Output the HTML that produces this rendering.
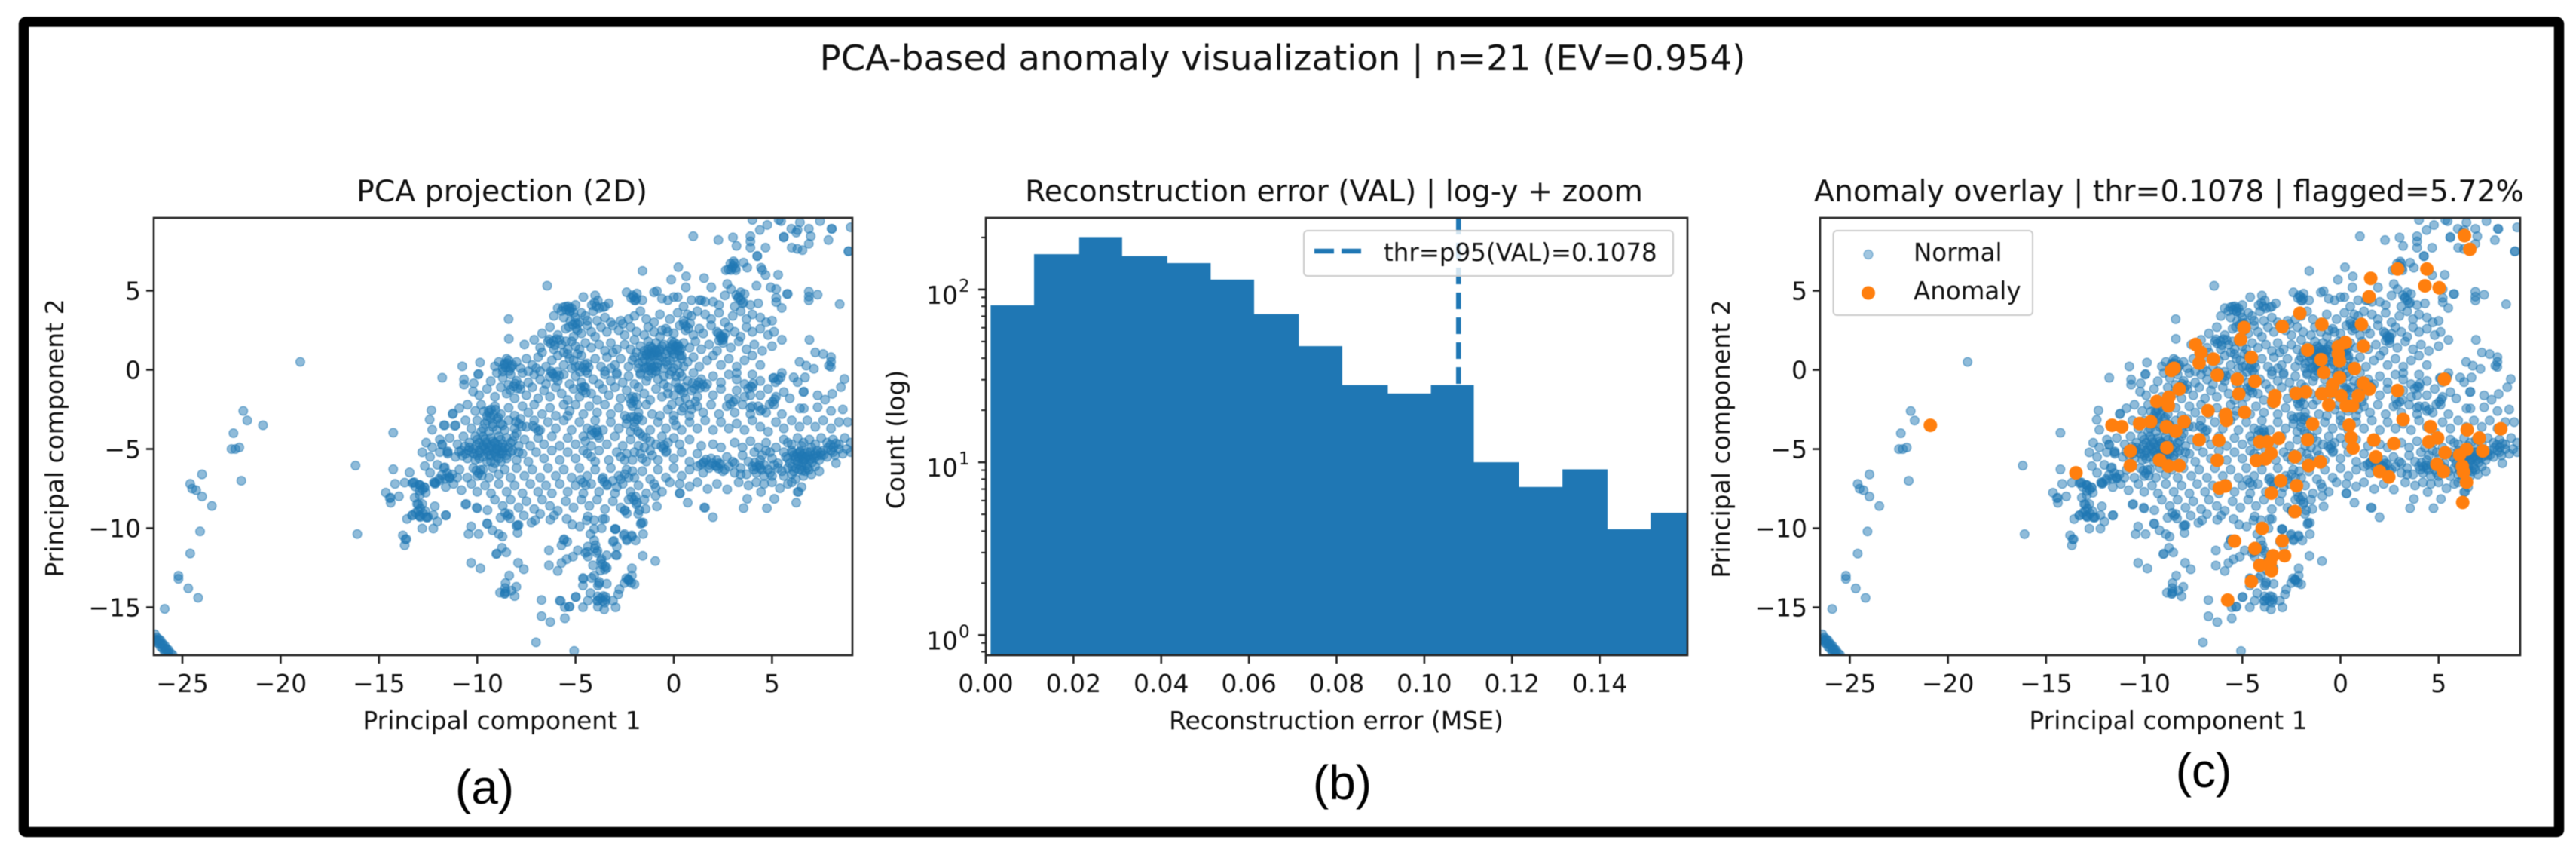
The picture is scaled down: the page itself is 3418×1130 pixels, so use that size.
<!DOCTYPE html>
<html lang="en">
<head>
<meta charset="utf-8">
<title>PCA-based anomaly visualization</title>
<style>
html,body{margin:0;padding:0;background:#fff;width:3418px;height:1130px;overflow:hidden}
svg{display:block;filter:blur(.6px)}
text{font-family:"DejaVu Sans","Liberation Sans",sans-serif;fill:#111}
.big{font-family:"Liberation Sans",sans-serif;font-size:64px;fill:#000}
</style>
</head>
<body>
<svg id="figure" xmlns="http://www.w3.org/2000/svg" width="3418" height="1130" viewBox="0 0 3418 1130">
<rect width="3418" height="1130" fill="#fff"/>
<rect x="31.5" y="29" width="3364" height="1074.5" rx="3" fill="none" stroke="#000" stroke-width="13.5"/>
<defs>
<clipPath id="clip-a"><rect x="204" y="289" width="927" height="580"/></clipPath>
<clipPath id="clip-b"><rect x="1308" y="289" width="931" height="580"/></clipPath>
<clipPath id="clip-c"><rect x="2415" y="289" width="929" height="580"/></clipPath>
</defs>
<text x="1702" y="93" font-size="46.6" text-anchor="middle">PCA-based anomaly visualization | n=21 (EV=0.954)</text>

<g>
<text x="666" y="267" font-size="39.4" text-anchor="middle">PCA projection (2D)</text>
<g id="marks-a" clip-path="url(#clip-a)"></g>
<rect x="204" y="289" width="927" height="580" fill="none" stroke="#222" stroke-width="2.6"/>
<g id="ticks-a"></g>
<text x="666" y="967" font-size="33" text-anchor="middle">Principal component 1</text>
<text x="0" y="0" font-size="33" text-anchor="middle" transform="translate(84 581) rotate(-90)">Principal component 2</text>
<text class="big" x="643" y="1066" text-anchor="middle">(a)</text>
</g>

<g>
<text x="1770" y="267" font-size="39.4" text-anchor="middle">Reconstruction error (VAL) | log-y + zoom</text>
<g id="marks-b" clip-path="url(#clip-b)"></g>
<g id="legend-b">
<rect x="1730" y="306" width="490" height="60" rx="5" fill="#fff" fill-opacity=".8" stroke="#ccc" stroke-width="2"/>
<line x1="1744" x2="1806" y1="333" y2="333" stroke="#1f77b4" stroke-width="6.5" stroke-dasharray="26 10"/>
<text x="1836" y="346" font-size="32.5">thr=p95(VAL)=0.1078</text>
</g>
<rect x="1308" y="289" width="931" height="580" fill="none" stroke="#222" stroke-width="2.6"/>
<g id="ticks-b"></g>
<text x="1773" y="967" font-size="33" text-anchor="middle">Reconstruction error (MSE)</text>
<text x="0" y="0" font-size="33" text-anchor="middle" transform="translate(1200 583) rotate(-90)">Count (log)</text>
<text class="big" x="1781" y="1060" text-anchor="middle">(b)</text>
</g>

<g>
<text x="2878" y="267" font-size="39.4" text-anchor="middle">Anomaly overlay | thr=0.1078 | flagged=5.72%</text>
<g id="marks-c" clip-path="url(#clip-c)"></g>
<g>
<rect x="2432.5" y="306" width="264.5" height="112" rx="5" fill="#fff" fill-opacity=".8" stroke="#ccc" stroke-width="2"/>
<circle cx="2479" cy="337.5" r="6" fill="#1f77b4" fill-opacity=".42" stroke="#1f77b4" stroke-opacity=".42" stroke-width="1.5"/>
<text x="2539" y="346" font-size="32.5">Normal</text>
<circle cx="2479" cy="388.5" r="9" fill="#ff7f0e"/>
<text x="2539" y="397" font-size="32.5">Anomaly</text>
</g>
<rect x="2415" y="289" width="929" height="580" fill="none" stroke="#222" stroke-width="2.6"/>
<g id="ticks-c"></g>
<text x="2877" y="967" font-size="33" text-anchor="middle">Principal component 1</text>
<text x="0" y="0" font-size="33" text-anchor="middle" transform="translate(2295 582) rotate(-90)">Principal component 2</text>
<text class="big" x="2924" y="1044" text-anchor="middle">(c)</text>
</g>
</svg>
<script>
const pcaXTicks=[-25,-20,-15,-10,-5,0,5];
const pcaYTicks=[5,0,-5,-10,-15];
const errorTicks=[0,0.02,0.04,0.06,0.08,0.10,0.12,0.14];
const countDecades=[0,1,2];
const countMinorTicks=[0.8,0.9,2,3,4,5,6,7,8,9,20,30,40,50,60,70,80,90,200];
const histEdges=[0.0011,0.011,0.0213,0.031,0.0413,0.0512,0.0611,0.0713,0.0812,0.0916,0.1015,0.1112,0.1215,0.1315,0.1417,0.1516,0.1636];
const histCounts=[81,160,201,156,142,114,72,47,28,25,28,10,7.2,9.1,4.1,5.1];
const thresholdValue=0.1078;
const anomalyPoints=[[6.32,8.48],[6.59,7.62],[2.91,6.37],[4.4,6.37],[1.54,5.78],[4.3,5.31],[5.03,5.18],[1.46,4.62],[-2.07,3.58],[-4.91,2.67],[-2.97,2.74],[-.95,2.87],[1.07,2.87],[-5.09,1.92],[-7.38,1.61],[.25,1.74],[-.11,1.47],[1.17,1.5],[-1.67,1.26],[-7.11,1.1],[-6.48,.68],[-4.54,.79],[-.99,.65],[-.11,1.01],[-.05,.56],[-7.2,.43],[-8.48,.1],[-8.62,-.04],[.72,.08],[-.85,-.17],[-6.28,-.32],[-5.26,-.59],[-4.36,-.72],[-.05,-.48],[5.29,-.59],[1.17,-.84],[1.46,-1.21],[-8.22,-1.21],[-.4,-.95],[2.91,-1.3],[-5.18,-1.52],[-3.34,-1.63],[-3.4,-1.99],[-2.26,-1.48],[-1.77,-1.39],[-.95,-1.5],[-.5,-1.35],[.03,-1.63],[.91,-1.63],[-9.36,-1.99],[-8.75,-1.72],[-8.77,-2.27],[-.6,-2.21],[.29,-2.27],[.62,-2.27],[-6.75,-2.57],[-4.89,-2.68],[-5.85,-2.81],[-5.81,-3.18],[-10.24,-3.39],[-9.67,-3.27],[-11.64,-3.5],[-11.15,-3.59],[-7.97,-3.27],[-8.87,-3.59],[-8.4,-3.87],[-1.42,-3.41],[.44,-3.49],[3.19,-3.14],[4.58,-3.59],[6.46,-3.78],[8.17,-3.72],[-7.2,-4.41],[-6.2,-4.45],[-4.11,-4.54],[-3.73,-4.54],[-3.15,-4.32],[-1.67,-4.41],[.54,-4.27],[1.7,-4.43],[2.72,-4.65],[4.95,-4.3],[4.5,-4.54],[7.07,-4.3],[-10.71,-5.12],[-8.85,-4.91],[.64,-4.94],[5.33,-5.23],[6.42,-5.02],[7.25,-5.12],[6.07,-5.36],[-3.54,-5.27],[-2.32,-5.49],[1.8,-5.49],[-9.22,-5.69],[-10.71,-6.05],[-8.77,-6.07],[-8.22,-6.05],[-6.28,-5.71],[-4.28,-5.73],[-3.83,-5.63],[-1.03,-5.82],[-1.62,-6.05],[4.91,-5.96],[5.25,-6.42],[1.99,-6.42],[2.46,-6.76],[6.21,-6.09],[6.27,-6.45],[6.42,-7.09],[-13.48,-6.5],[-3.05,-7],[-2.24,-7.31],[-6.17,-7.46],[-5.87,-7.33],[-3.52,-7.78],[-2.32,-8.95],[6.23,-8.37],[-3.99,-10.01],[-5.4,-10.81],[-2.97,-10.79],[-4.36,-11.28],[-2.85,-11.74],[-3.44,-11.74],[-4.11,-12.34],[-3.58,-12.19],[-3.52,-12.68],[-4.54,-13.36],[-5.75,-14.54],[-20.9,-3.5]];
const normalPoints=[
[-19,.5],[-21.9,-2.6],[-21.7,-3.2],[-20.9,-3.5],[-22.4,-4],[-22.5,-5],[-22.3,-5],[-22.1,-4.9],[-24,-6.6],[-24.6,-7.2],[-24.5,-7.5],[-24.3,-7.6],[-24,-8],[-23.5,-8.6],[-22,-7],[-24.1,-10.2],[-24.6,-11.6],[-25.2,-13],[-25.2,-13.2],[-24.7,-13.8],[-24.2,-14.4],[-25.9,-15.1],
[-26.4,-16.7],[-26.3,-16.9],[-26.4,-17],[-26.2,-17],[-26.1,-17.1],[-26.3,-17.2],[-26,-17.3],[-25.9,-17.4],[-26.1,-17.5],[-25.8,-17.6],[-25.7,-17.7],[-25.9,-17.8],[-25.6,-17.9],[-25.5,-18],[-25.7,-18.1],[-26.2,-17.3],[-26,-17.6],[-25.8,-17.9],[-26.3,-17.1],[-26.2,-17.1],[-26,-17.4],[-25.8,-17.7],[-26.1,-17.3],[-25.9,-17.6],[-25.7,-17.9],
[.99,8.44],[2.27,8.2],[3.01,8.36],[3.19,7.83],[3.9,8.44],[3.9,8.12],[3.9,7.72],[4.67,7.72],[4.25,7.17],[4.25,7.2],[4.38,8.83],[4.76,9.15],[4,9.47],[5.46,9.39],[5.34,9.47],[5.98,8.91],[6.23,8.67],[6.3,8.83],[6.42,9.31],[6.87,8.91],[6.97,8.44],[6.87,7.96],[6.55,7.56],[6.29,7.64],[6,7.72],[5.59,8.36],[5.6,8.4],[7.44,9.39],[8.02,8.91],[8.05,8.9],[7.87,8.2],[9,9],[8.88,7.48],[8.9,7.5],
[-1.59,6.25],[-6.44,5.31],[.23,6.48],[.63,5.9],[-.13,5.69],[1.54,5.79],[1.91,5.21],[-.86,4.98],[.61,5.21],[2.72,5.42],[2.91,5.1],[4.21,5.31],[4.93,5.21],[5.21,5.1],[5.21,4.55],[5.21,4.28],[5.49,3.91],[5.76,4.79],[5.8,4.8],[6.87,4.94],[6.87,4.63],[6.87,4.39],[7.32,4.75],[8.44,4.15],[5.31,6],[4.67,5.98],[4.44,6.45],[4.5,6.29],[2.78,6.34],[2.97,6.45],[3.16,6.29],[2.65,6.29],[3.04,6.85],[3.55,6.77],[3.74,6.45],[2.9,6.3],
[-5.9,3.9],[-5.5,4],[-5.3,3.9],[-5.1,3.6],[-5,4.1],[-4.6,4.6],[-4,4.7],[-4.5,3.4],[-4.1,3.7],[-3.8,3.9],[-3.5,4],[-3.3,4.2],[-2.4,4.9],[-2.1,4.7],[-2,4.4],[-1.9,4.5],[-1.6,4.4],[-1,4.9],[-.6,4.5],[-.3,4.4],[0,4.6],[.2,4.6],[.5,4],[.9,4.4],[1.3,4.4],[1.4,4.4],[1.6,4.3],[2,4.3],[2.3,4.1],[2.6,4.7],[3.1,4],[3.3,4.6],[3.4,4.9],[3.6,4.8],[3.5,4.2],[3.55,4.25],[3.9,4.1],[4.3,4.2],[-5.2,3.9],[-3.6,3.95],
[-8.4,3.2],[-6.1,3.4],[-5.6,3.3],[-5.3,3.7],[-5,3.3],[-4.8,3],[-4.7,3.6],[-4.4,3.1],[-3.9,3.1],[-3.5,3.3],[-3.2,3],[-2.7,3.1],[-2.3,3.2],[-2,3.4],[-1.7,3.7],[-1.4,3.2],[-1,3],[-.7,3.5],[-.2,3.2],[.2,3.6],[.5,3.1],[.9,3.4],[1.2,3.7],[1.6,3.5],[1.9,3.2],[2.3,3.6],[2.6,3],[3,3.4],[3.4,3.7],[3.7,3.2],[4,3.5],[4.4,3.3],[4.7,3],[5,3.1],[-4.9,2.9],[-2.6,2.9],[.7,3.5],
[-6.7,2.3],[-6.3,2.7],[-5.9,2.2],[-5.5,2.6],[-5.1,2.1],[-4.9,2.5],[-4.7,2.3],[-4.4,2.8],[-4.2,2.4],[-4,2.1],[-3.7,2.7],[-3.4,2.4],[-3.1,2.8],[-2.8,2.5],[-2.5,2.2],[-2.2,2.7],[-1.9,2.4],[-1.5,2.2],[-1.3,2.7],[-1,2.4],[-.7,2.1],[-.4,2.6],[0,2.3],[.3,2.8],[.6,2.5],[1,2.2],[1.3,2.6],[1.5,2.3],[1.9,2.8],[2.2,2.4],[2.5,2.1],[2.8,2.7],[3.1,2.4],[3.4,2.1],[3.7,2.7],[4,2.4],[4.4,2.6],[4.8,2.2],[5.1,2.4],[2.4,2],[2.5,1.9],[2.3,1.85],[-5.8,1.9],[-5.5,1.8],[-.6,2.5],[-.3,2.4],
[-8.39,1.96],[-7.6,1.6],[-7.1,1.9],[-6.8,1.4],[-6.4,1.8],[-6.1,1.3],[-5.7,1.6],[-5.4,1.3],[-5.2,1.8],[-5,1.5],[-4.8,1.3],[-4.5,1.7],[-4.2,1.4],[-3.8,1.6],[-3.5,1.2],[-3.2,1.7],[-2.9,1.3],[-2.5,1.6],[-2.2,1.3],[-2,1.9],[-1.7,1.5],[-1.5,1.2],[-1.3,1.8],[-1.1,1.4],[-.9,1.7],[-.7,1.3],[-.5,1.6],[-.3,1.2],[-.1,1.8],[.1,1.5],[.3,1.2],[.5,1.7],[.8,1.4],[1.1,1.8],[1.4,1.3],[1.8,1.6],[2.2,1.2],[2.5,1.7],[2.9,1.4],[3.3,1.8],[3.7,1.3],[4.1,1.6],[4.5,1.2],[5,1.5],[5.5,1.9],[6.9,1.9],[7.2,1.1],[7.6,1],[8,.8],[8,.5],[-6.7,1.1],[-5.6,1.1],[-3.1,1.1],
[-10.76,.22],[-9.86,.46],[-9.1,.22],[-8.9,.5],[-8.6,.4],[-8.4,.6],[-8.2,.3],[-8,.5],[-7.8,.1],[-7.5,.7],[-7.2,.3],[-6.9,.8],[-6.5,.2],[-6.2,.6],[-5.9,.9],[-5.6,.3],[-5.3,.7],[-5,.2],[-4.7,.9],[-4.4,.4],[-4,.7],[-3.7,.2],[-3.4,.8],[-3,.3],[-2.7,.7],[-2.3,.2],[-2,.8],[-1.8,.4],[-1.5,.7],[-1.3,.2],[-1.1,.9],[-.8,.4],[-.6,.8],[-.3,.3],[0,.8],[.2,.3],[.4,.7],[.7,.5],[1,.8],[1.3,.2],[1.7,.6],[2,.9],[2.4,.3],[2.8,.7],[3.2,.2],[3.6,.6],[4,.9],[4.4,.3],[6.74,.26],[7.13,.06],[7.89,.26],[7.99,.18],[6.4,.5],[-8.7,.1],[-8.3,.1],[-8.5,.7],
[-11.78,-.5],[-9.93,-.26],[-9.95,-.3],[-10.67,-.61],[-10.67,-.93],[-10.18,-.85],[-10.21,-1.37],[-9.31,-.72],[-9,-.2],[-8.7,-.5],[-8.3,-.3],[-8,-.7],[-7.7,-.2],[-7.4,-.8],[-7.1,-.3],[-6.8,-.6],[-6.5,-.9],[-6.2,-.2],[-5.9,-.7],[-5.6,-.3],[-5.3,-.9],[-5,-.4],[-4.7,-.8],[-4.4,-.2],[-4.1,-.6],[-3.8,-.9],[-3.5,-.3],[-3.2,-.7],[-2.9,-.2],[-2.6,-.8],[-2.3,-.4],[-2,-.9],[-1.7,-.3],[-1.4,-.7],[-1.1,-.2],[-.8,-.6],[-.5,-.9],[-.2,-.3],[.1,-.8],[.4,-.4],[.7,-.7],[1,-.2],[1.4,-.6],[1.7,-.9],[2,-.4],[2.4,-.8],[2.8,-.3],[3.2,-.6],[3.6,-.9],[4,-.3],[4.4,-.7],[5.06,-.53],[5.1,-.5],[6.1,-.48],[6.68,-.48],[6.3,-.77],[8.68,-.58],[8.5,-1.09],[5.5,-.2],[3.2,-.2],
[-9.9,-1.6],[-9.5,-1.2],[-9.1,-1.7],[-8.8,-1.1],[-8.5,-1.5],[-8.1,-1.8],[-7.8,-1.2],[-7.5,-1.6],[-7.2,-1.1],[-6.9,-1.8],[-6.6,-1.3],[-6.3,-1.7],[-6,-1.1],[-5.7,-1.5],[-5.4,-1.9],[-5.1,-1.2],[-4.8,-1.7],[-4.5,-1.1],[-4.2,-1.5],[-3.9,-1.9],[-3.6,-1.2],[-3.3,-1.6],[-3,-1.1],[-2.7,-1.8],[-2.4,-1.3],[-2.1,-1.7],[-1.8,-1.1],[-1.5,-1.5],[-1.2,-1.9],[-.9,-1.2],[-.6,-1.7],[-.3,-1.1],[0,-1.6],[.3,-1.2],[.6,-1.8],[.9,-1.3],[1.2,-1.7],[1.6,-1.1],[2,-1.6],[2.4,-1.2],[2.8,-1.8],[3.2,-1.3],[3.6,-1.7],[4,-1.1],[4.4,-1.6],[4.8,-1.2],[5.2,-1.7],[6.62,-1.37],[6.6,-1.4],[7.32,-1.61],[7.7,-1.88],[8.06,-1.52],[5.6,-1.4],[5.9,-1.8],[3.9,-1.6],
[-12.33,-2.56],[-10.91,-2.43],[-11.23,-2.75],[-11.25,-2.8],[-10.5,-2.2],[-10.1,-2.6],[-9.8,-2.2],[-9.4,-2.7],[-9.1,-2.3],[-8.8,-2.8],[-8.4,-2.4],[-8.1,-2.9],[-7.7,-2.3],[-7.4,-2.7],[-7.1,-2.2],[-6.7,-2.8],[-6.3,-2.4],[-6,-2.9],[-5.6,-2.2],[-5.3,-2.6],[-5,-2.2],[-4.6,-2.8],[-4.3,-2.3],[-3.9,-2.7],[-3.5,-2.2],[-3.2,-2.8],[-2.8,-2.4],[-2.5,-2.9],[-2.1,-2.3],[-1.8,-2.7],[-1.4,-2.2],[-1.1,-2.8],[-.7,-2.9],[-.3,-2.5],[0,-2.9],[.4,-2.6],[.8,-2.9],[1.2,-2.3],[1.5,-2.7],[1.9,-2.2],[2.3,-2.8],[2.7,-2.3],[3.1,-2.7],[3.5,-2.2],[3.9,-2.8],[4.3,-2.3],[4.7,-2.7],[5.1,-2.2],[5.5,-2.8],[6.42,-2.44],[6.62,-2.44],[7.32,-2.36],[8,-2.6],[8.6,-2.5],[4.4,-2.6],[4.5,-2.5],[3.9,-2.4],[4,-2.3],[-5.4,-2.9],[-9.3,-2.5],
[-12.42,-3.15],[-12.29,-3.78],[-11.65,-3.5],[-11.7,-3.5],[-11.14,-3.54],[-11.1,-3.5],[-10.6,-3.2],[-10.3,-3.7],[-10,-3.2],[-9.7,-3.7],[-9.5,-3.2],[-9.2,-3.6],[-9,-3.1],[-8.7,-3.5],[-8.4,-3.2],[-8.1,-3.7],[-7.8,-3.1],[-7.5,-3.6],[-7.1,-3.2],[-6.8,-3.8],[-6.4,-3.3],[-6,-3.7],[-5.6,-3.2],[-5.2,-3.8],[-4.8,-3.3],[-4.4,-3.7],[-4,-3.2],[-3.6,-3.8],[-3.2,-3.3],[-2.8,-3.7],[-2.4,-3.1],[-2,-3.6],[-1.6,-3.2],[-1.2,-3.8],[-.8,-3.3],[-.4,-3.7],[0,-3.2],[.4,-3.8],[.8,-3.3],[1.2,-3.7],[1.6,-3.2],[2,-3.8],[2.4,-3.3],[2.8,-3.7],[3.2,-3.4],[3.6,-3.8],[4,-3.2],[4.4,-3.6],[4.8,-3.9],[5.2,-3.3],[5.6,-3.7],[6,-3.2],[6.4,-3.6],[6.8,-3.2],[7.2,-3.6],[7.6,-3.2],[8,-3.7],[8.4,-3.3],[8.85,-3.3],[-3.9,-3.9],[-2.2,-3.9],[.1,-3.5],
[-14.27,-3.97],[-12.6,-4.6],[-12.29,-4.89],[-11.9,-4.4],[-11.78,-4.74],[-11.8,-4.7],[-11.4,-4.3],[-11,-4.7],[-10.7,-4.2],[-10.4,-4.6],[-10.1,-4.2],[-9.9,-4.6],[-9.7,-4.2],[-9.5,-4.7],[-9.3,-4.3],[-9.1,-4.6],[-8.9,-4.2],[-8.7,-4.7],[-8.5,-4.3],[-8.3,-4.6],[-8.1,-4.2],[-7.9,-4.8],[-7.6,-4.4],[-7.3,-4.8],[-6.9,-4.3],[-6.6,-4.7],[-6.2,-4.2],[-5.8,-4.8],[-5.4,-4.3],[-5,-4.7],[-4.6,-4.2],[-4.2,-4.8],[-3.8,-4.3],[-3.4,-4.7],[-3,-4.2],[-2.6,-4.8],[-2.2,-4.4],[-1.8,-4.8],[-1.4,-4.3],[-.9,-4.7],[-.6,-4.2],[-.3,-4.6],[0,-4.3],[.3,-4.7],[.8,-4.4],[1.4,-4.8],[2,-4.7],[2.4,-4.9],[3.1,-4.6],[3.5,-4.9],[3.9,-4.5],[4.3,-4.9],[4.7,-4.6],[5.2,-4.9],[5.6,-4.4],[6,-4.7],[6.3,-4.3],[6.6,-4.6],[6.9,-4.4],[7.2,-4.7],[7.5,-4.3],[7.8,-4.6],[8.1,-4.4],[8.4,-4.7],[8.7,-4.3],[9,-4.6],[-9.6,-4.4],[-9.2,-4.5],[-8.8,-4.4],[-9.4,-4.9],[-8.6,-4.9],[5.8,-4.6],[6.5,-4.8],[7,-4.9],
[-12.8,-5.21],[-12.4,-5.5],[-11.9,-5.2],[-11.52,-5.21],[-11.5,-5.3],[-11.5,-5.15],[-11.1,-5.5],[-10.8,-5.1],[-10.5,-5.6],[-10.3,-5.2],[-10.1,-5.7],[-9.9,-5.1],[-9.7,-5.5],[-9.5,-5.2],[-9.3,-5.8],[-9.1,-5.3],[-8.9,-5.6],[-8.7,-5.1],[-8.5,-5.6],[-8.3,-5.2],[-8,-5.7],[-7.7,-5.3],[-7.4,-5.8],[-7,-5.2],[-6.6,-5.6],[-6.2,-5.1],[-5.8,-5.7],[-5.4,-5.2],[-5,-5.6],[-4.6,-5.1],[-4.2,-5.5],[-3.8,-5.1],[-3.3,-5.7],[-2.9,-5.2],[-2.5,-5.7],[-2,-5.2],[-1.6,-5.6],[-1.2,-5.1],[-.8,-5.7],[-.4,-5.2],[0,-5.6],[.4,-5.2],[.8,-5.8],[1.2,-5.3],[1.5,-5.9],[1.9,-5.6],[2.3,-5.9],[2.7,-5.5],[3.1,-5.9],[3.5,-5.4],[3.8,-5.8],[4.1,-5.2],[4.4,-5.7],[4.7,-5.1],[5,-5.6],[5.3,-5.9],[5.6,-5.2],[5.8,-5.6],[6,-5.1],[6.2,-5.5],[6.4,-5.2],[6.6,-5.7],[6.8,-5.2],[7,-5.6],[7.2,-5.3],[7.4,-5.7],[7.6,-5.1],[7.8,-5.5],[8,-5.1],[8.2,-5.4],[8.4,-5],[8.6,-5.3],[8.8,-5],[9,-5.2],[6.1,-5.4],[6.3,-5.8],[6.5,-5.4],[6.7,-5.5],[6.9,-5.7],[7.1,-5.4],[5.9,-5.9],[5.7,-5.5],[-10,-5.4],[-9.6,-5],[-9,-5],[-9.3,-5.4],[-8.8,-5.3],[7.3,-5.1],[7.5,-5.4],[8.1,-5.2],
[-16.19,-6.05],[-14.27,-6.28],[-13.44,-6.48],[-12.67,-6.08],[-12.4,-6.5],[-12.03,-6],[-11.65,-6.16],[-11.7,-6.2],[-11.4,-6.8],[-11.4,-6.85],[-11.45,-6.75],[-11.01,-6.8],[-10.9,-6.3],[-10.5,-6.8],[-10.2,-6.2],[-10,-6.7],[-9.7,-6.3],[-9.4,-6.8],[-9.2,-6.2],[-8.9,-6.6],[-8.6,-6.3],[-8.3,-6.8],[-8,-6.2],[-7.6,-6.7],[-7.2,-6.3],[-6.8,-6.8],[-6.4,-6.2],[-6,-6.7],[-5.6,-6.3],[-5.2,-6.8],[-4.8,-6.2],[-4.4,-6.7],[-4,-6.3],[-3.6,-6.8],[-3.2,-6.2],[-2.8,-6.7],[-2.4,-6.3],[-2,-6.8],[-1.6,-6.4],[-1.2,-6.9],[-.8,-6.3],[-.4,-6.8],[0,-6.2],[.4,-6.7],[.8,-6.3],[1.2,-6.1],[1.5,-6.5],[1.8,-6.2],[2.2,-6.1],[2.5,-6.4],[2.8,-6.1],[3.1,-6.5],[3.4,-6.2],[3.7,-6.6],[4,-6.1],[4.2,-6.5],[4.4,-6.2],[4.6,-6.7],[4.8,-6.3],[5,-6.7],[5.3,-6.2],[5.6,-6.7],[5.8,-6.2],[6,-6.6],[6.2,-6.9],[6.4,-6.3],[6.6,-6.7],[6.8,-6.2],[7,-6.6],[7.2,-6.1],[7.4,-6.4],[8.25,-5.9],[6.5,-6.1],[6.7,-6.4],[6.1,-6.4],[-2.5,-6.6],[-2.3,-6.8],[-2.1,-6.4],
[-14.18,-7.2],[-13.69,-7.12],[-13.25,-7.12],[-13.3,-7.15],[-13.2,-7.1],[-12.93,-7.28],[-12.9,-7.3],[-12.95,-7.25],[-12.67,-7.43],[-12.7,-7.4],[-12.16,-7.12],[-12.2,-7.1],[-12.1,-7.15],[-12.15,-7.2],[-11.9,-6.96],[-11.6,-7.4],[-11.2,-7.2],[-10.8,-7.6],[-10.3,-7.2],[-10,-7.7],[-9.6,-7.3],[-9.3,-7.8],[-8.9,-7.2],[-8.5,-7.7],[-8.1,-7.3],[-7.7,-7.8],[-7.3,-7.2],[-6.9,-7.7],[-6.5,-7.3],[-6.2,-7.8],[-5.8,-7.2],[-5.4,-7.7],[-5,-7.3],[-4.6,-7.8],[-4.2,-7.2],[-3.8,-7.7],[-3.4,-7.3],[-3,-7.8],[-2.6,-7.2],[-2.2,-7.7],[-1.8,-7.3],[-1.4,-7.8],[-1,-7.2],[-.92,-7.44],[-.6,-7.7],[-.2,-7.1],[.3,-7.2],[.8,-7.36],[1.2,-7.1],[1.72,-7.52],[2.2,-7.2],[2.72,-7.55],[3.3,-7.1],[3.8,-7.3],[4.44,-7.71],[4.2,-7.1],[4.6,-7.2],[5,-7.1],[5.4,-7.48],[5.8,-7.2],[6.3,-7.71],[6.35,-7.7],[6,-7.1],[6.5,-7.4],[-14.65,-7.75],[-14.4,-8.07],[-14.45,-8.1],[-14.4,-8.4],[-13.98,-7.99],[-12.93,-7.91],[-13.18,-8.07],[-12.8,-8.47],[-13.06,-8.47],[-13,-8.5],[-12.16,-8.62],
[-10.56,-8.47],[-10.6,-8.5],[-10.03,-8.7],[-10,-8.75],[-9.48,-8.86],[-9.1,-8.2],[-8.7,-8.6],[-8.3,-8.2],[-7.9,-8.7],[-7.5,-8.3],[-7.1,-8.8],[-6.7,-8.2],[-6.3,-8.6],[-5.9,-8.9],[-5.5,-8.3],[-5.1,-8.7],[-4.7,-8.2],[-4.3,-8.6],[-3.9,-8.2],[-3.5,-8.8],[-3.1,-8.3],[-2.7,-8.7],[-2.3,-8.2],[-1.9,-8.5],[-1.5,-8.2],[-.92,-7.96],[-.86,-8.63],[.29,-7.8],[.32,-7.8],[.71,-8.39],[1.59,-8.71],[1.55,-8.7],[1.99,-9.31],[3.74,-8.15],[3.55,-8.74],[4.74,-8.74],[5.12,-8.15],[6.23,-8.39],[-2.48,-8.87],[-2.5,-8.9],[-1.43,-8.79],[-1.75,-8.87],
[-13.31,-9.18],[-13.3,-9.2],[-12.93,-9.26],[-12.9,-9.3],[-12.95,-9.2],[-12.55,-9.34],[-12.5,-9.3],[-12.6,-9.3],[-12.23,-9.18],[-11.59,-9.18],[-11.6,-9.2],[-13.57,-9.42],[-12.8,-10.02],[-12.23,-10.02],[-12.03,-9.58],[-9.48,-9.73],[-9.5,-9.7],[-9.22,-10.13],[-8.9,-10.37],[-8.71,-10.53],[-10.31,-9.89],[-9.93,-10.37],[-10.44,-10.37],[-7.95,-9.81],[-7.9,-9.8],[-8,-9.85],[-7.95,-10.29],[-16.1,-10.37],[-13.78,-10.45],[-13.6,-10.69],[-13.65,-10.7],[-13.69,-11.08],
[-8.81,-9.34],[-8.39,-9.1],[-7.63,-9.21],[-7.24,-9.65],[-7.05,-9.5],[-6.28,-9.46],[-6.09,-9.2],[-6.8,-9.1],[-5.45,-9.42],[-5.17,-9.77],[-4.78,-9.89],[-4.37,-9.26],[-4.43,-9.5],[-4.05,-9.5],[-3.5,-9.42],[-3.67,-10],[-4.05,-10.05],[-2.96,-10.05],[-3,-10.05],[-2.51,-10.37],[-2.13,-10.53],[-1.56,-10.37],[-1.94,-10.77],[-2.39,-10.77],[-3.09,-10.85],[-3.05,-10.8],[-1.68,-9.73],[-1.56,-9.65],[-2.39,-9.07],[-1.81,-9.1],[-3.61,-9.42],[-1.65,-9.66],[-2.97,-10.06],[-2.55,-10.45],[-2.14,-10.45],[-2.39,-10.69],
[-4.24,-10.37],[-4.05,-10.77],[-4.37,-11.16],[-3.98,-11.08],[-4.5,-11.56],[-4.4,-11.5],[-4.37,-11.8],[-3.92,-11.56],[-4.88,-11.4],[-5.13,-11.8],[-5.45,-11.96],[-5.71,-12.2],[-5.9,-12.7],[-6.35,-12.35],[-6.35,-11.4],[-5.71,-11.08],[-5.58,-10.69],[-5.42,-10.85],[-5.6,-10.75],[-2.9,-11.16],[-2.9,-11.72],[-2.95,-11.7],[-3.41,-11.72],[-3.67,-11.96],[-4.11,-12.35],[-3.41,-12.51],[-3.73,-12.67],[-3.5,-12.6],[-4.05,-12.99],[-4.62,-13.15],[-4.6,-13.2],[-4.62,-13.62],[-4.18,-13.15],[-3.79,-13.39],[-3.41,-13.51],[-3.86,-13.62],[-3.8,-13.5],[-2.13,-12.54],[-2.13,-12.99],[-2.32,-13.23],[-2.3,-13.25],[-2.51,-13.46],[-2,-13.54],[-2.77,-13.86],[-2.83,-14.18],[-1.58,-11.75],[-.94,-12.08],[-3.09,-14.58],[-2.96,-15],[-3.47,-14.34],[-3.54,-15.13],[-3.86,-14.58],[-3.9,-14.6],[-3.86,-14.97],[-3.5,-14.7],[-3.6,-14.6],[-4.37,-14.58],[-4.24,-14.1],[-4.62,-15],[-4.98,-14.34],[-5,-14.35],[-5.33,-14.97],[-5.3,-14.95],[-5.54,-15],[-5.8,-14.58],[-5.75,-14.6],[-5.54,-15.69],[-6.73,-14.54],[-6.73,-15.56],[-6.28,-15.92],[-7.01,-17.21],[-5.07,-17.75],
[-9.03,-11.64],[-9,-11.6],[-8.74,-11.24],[-8.52,-11.53],[-10.31,-12.19],[-9.84,-12.54],[-7.92,-12.19],[-7.63,-12.59],[-8.37,-12.99],[-8.56,-13.46],[-8.01,-13.7],[-8.84,-14.07],[-8.58,-14.1],[-8.6,-14.15],[-8.58,-13.78],[-8.1,-14.29],[-8.26,-13.94],[-8.55,-14],
[-1.2,1.5],[-1,1.1],[-.8,.9],[-.6,1.5],[-.4,1],[-.2,1.4],[0,1],[.2,1.6],[.4,.9],[-1.6,.9],[-1.4,1],[-1.9,1.1],[-2.1,.6],[-1.8,.1],[-1.5,.1],[-1.2,.5],[-1,.2],[-.7,.6],[-.5,.1],[-.2,.6],[0,.1],[.3,.9],[.5,.2],[-1.7,-.2],[-1.3,-.4],[-.9,-.1],[-.5,-.4],[-.1,-.1],[.3,-.2],[-1.6,.5],[-.4,.5],[-.9,1.2],[-.1,1.2],[-1.3,1.3],
[-3.5,-.1],[-3.2,.1],[-2.9,-.3],[-5.4,1],[-5.1,.6],[-4.9,1],[-5.2,.1],[-7.4,-.1],[-7,.1],[-6.8,-.1],[-2.2,-3],[-2,-3.3],[-1.8,-3],[-2.4,-3.4],[.1,-.4],[-.3,-1.5],[.5,-2.4],[.8,-2.2],[.3,-2],[-.1,-2.2],[1.1,-2],[.9,-2.5],
[-9.6,-3.4],[-9.4,-3.9],[-9.2,-3.4],[-9,-3.8],[-8.8,-3.4],[-8.6,-3.8],[-9.8,-3.9],[-10,-4.4],[-9.7,-4.8],[-9.4,-5.4],[-9,-5.5],[-8.7,-5.3],[-8.4,-4.9],[-8.2,-4.5],[-8,-4],[-10.2,-5],[-10.6,-5.3],[-10.4,-4.9],[-9.9,-5.6],[-9.5,-5.8],[-9.1,-5.9],[-8.8,-5.8],[-8.5,-5.4],[-8.2,-5.1],[-7.9,-5.2],
[-1.7,-5.3],[-1.4,-5.8],[-1.1,-5.4],[-1.5,-4.9],[-1.2,-4.5],[-2.4,-5.3],[-2.1,-5.7],[-2.7,-5.5],[-4.4,-5.3],[-4,-5.8],[-4.5,-4.5],[-4.2,-4.1],[1.8,-6],[2.2,-5.7],[2.6,-6.3],[3,-5.8],[3.4,-6.6],[4.5,-5.4],[4.9,-5.2],[4.6,-6],[4.9,-6.5],[5.1,-6],[5.5,-6.4],[-3.1,-7],[-2.9,-7.4],[-2.7,-6.9],
[-8.55,.15],[-8.38,-.08],[-8.62,.31],[-8.25,.22],[-8.47,.42],[-8.7,-.12],[-8.15,-1.03],[-8.32,-1.27],[-7.96,-1.18],[-8.08,-.87],[-8.41,-.94],[-7.83,-.96],
[-9.42,-2.58],[-9.18,-2.84],[-9.5,-2.91],[-9.07,-2.52],[-9.31,-3.05],[-8.93,-3.02],[-9.66,-2.63],
[-9.03,-4.97],[-9.15,-5.21],[-8.88,-5.14],[-9.27,-4.83],[-8.95,-4.74],[-9.38,-5.12],[-8.72,-4.92],[-9.12,-4.62],[-9.54,-4.58],[-9.77,-4.92],[-10.03,-4.75],[-9.85,-5.23],[-10.17,-5.31],[-10.44,-5.08],[-10.75,-5.42],[-10.92,-5.17],[-10.63,-4.84],
[-11.63,-6.87],[-11.8,-6.64],[-11.52,-6.52],[-11.94,-6.88],[-11.27,-6.61],[-12.93,-7.64],[-13.14,-7.38],[-12.78,-7.55],[-12.62,-7.75],[-13.01,-8.92],[-12.76,-9.07],[-12.89,-8.76],[-12.64,-8.93],[-13.13,-9.03],
[-5.47,3.78],[-5.62,3.95],[-5.38,4.02],[-5.28,3.69],[-5.71,3.72],[-5.14,2.84],[-5.33,2.71],[-5.02,2.96],[-5.26,3.08],[-4.97,2.63],[-6.12,1.83],[-6.27,1.67],[-5.97,1.94],[-6.05,1.56],[-6.34,1.93],
[-4.62,.12],[-4.48,-.07],[-4.77,-.14],[-4.53,.34],[-4.81,.26],[-4.33,.16],[-6.14,-.26],[-6.02,-.48],[-6.31,-.43],[-5.92,-.13],[-6.25,-.09],[-5.83,-.37],
[-4.03,4.25],[-3.86,4.38],[-4.17,4.09],[-3.94,4.02],[-2.04,4.63],[-1.88,4.82],[-2.17,4.54],[-1.95,4.38],
[-1.13,1.04],[-.96,1.26],[-1.27,1.17],[-1.04,.87],[-.85,1.09],[-1.21,.82],[-.72,1.18],[-1.38,.94],[.08,1.41],[.19,1.22],[-.06,1.58],[.24,1.47],[-.13,1.29],[.36,1.33],[.02,1.73],[-1.08,.11],[-.92,-.07],[-1.24,-.04],[-1.15,.28],[-.84,.19],[-1.4,.16],
[-2.03,-1.96],[-1.86,-2.18],[-2.17,-2.12],[-1.92,-1.73],[-2.24,-1.82],[1.17,-.96],[1.34,-1.14],[1.03,-1.17],[1.26,-.78],[.96,-.84],[1.47,-.92],
[.62,2.76],[.74,2.62],[.51,2.91],[.83,2.93],[2.38,2.14],[2.52,2.02],[2.27,2.31],[2.61,2.27],[3.27,4.54],[3.41,4.41],[3.18,4.72],[3.02,6.58],[3.14,6.43],[2.88,6.71],[3.09,6.73],
[-4.02,-3.97],[-3.87,-4.14],[-4.16,-3.82],[-3.93,-3.76],[-7.03,-3.68],[-6.88,-3.86],[-7.17,-3.54],[-7.88,-3.42],[-7.73,-3.56],[-8.03,-3.28],[-4.63,-1.32],[-4.47,-1.45],[-4.74,-1.14],[-4.58,-1.06],
[-2.04,-2.97],[-1.88,-3.14],[-1.71,-4.03],[-1.57,-4.21],[-1.83,-3.88],[-.52,-4.97],[-.37,-5.13],[-.63,-4.82],[-.48,-4.76],[.37,-1.28],[.48,-1.44],[.22,-1.13],[.54,-1.09],
[-2.02,-8.23],[-1.87,-8.38],[-2.14,-8.04],[-1.94,-8.01],[-3.53,-7.08],[-3.38,-7.24],[-3.64,-6.91],[-4.02,-11.27],[-3.88,-11.43],[-3.64,-12.28],[-3.49,-12.41],[-3.71,-12.07],[-2.28,-13.32],[-2.42,-13.16],[-2.17,-13.45],[-3.73,-14.43],[-3.58,-14.29],[-3.87,-14.31],[-3.45,-14.52],[-4.62,-7.12],[-4.48,-7.28],[-4.74,-6.94],
[2.12,-6.07],[2.27,-6.23],[1.96,-5.91],[2.38,-5.95],[4.21,-6.13],[4.36,-6.02],[4.08,-6.29],[4.47,-6.31],[4.13,-5.86],[6.52,-5.43],[6.38,-5.57],[6.64,-5.28],[6.27,-5.31],[6.71,-5.62],[6.43,-5.14],[6.16,-5.68],[6.84,-5.43],[6.58,-5.83],[6.94,-5.19],[6.33,-5.96],[6.76,-6.04],[6.04,-5.21],[7.04,-5.84],[7.16,-5.57],[6.24,-6.23],[6.54,-6.36],[6.02,-6.13],[6.88,-6.31],[7.31,-5.42],[7.47,-5.22],[7.62,-5.38],[7.97,-4.73],[8.12,-4.88],[7.84,-4.92],[8.26,-4.64],
[5.32,-.62],[5.18,-.78],[5.44,-.46],[5.03,-2.02],[4.88,-2.17],[5.14,-1.86],[3.02,-2.03],[2.88,-2.17],[3.14,-1.88],[3.92,-1.04],[3.78,-1.18],[4.04,-.87],[1.53,-5.82],[1.38,-5.97],[1.64,-5.67],[-8.47,-9.23],[-8.33,-9.38],[-8.58,-9.04],[-9.92,-6.53],[-9.77,-6.68],[-10.04,-6.36],[-9.83,-6.31]
];

const NS='http://www.w3.org/2000/svg';
const pcaRangeX=[-26.46,9.08];
const pcaRangeY=[-18,9.6];
const errorRangeX=[0,0.16];
const countRangeLog=[-0.114,2.414];
function linear(d0,d1,r0,r1){return v=>r0+(v-d0)/(d1-d0)*(r1-r0);}
function node(parent,tag,attrs){
  const el=document.createElementNS(NS,tag);
  for(const k in attrs)el.setAttribute(k,attrs[k]);
  parent.appendChild(el);
  return el;
}
const fmtTick=v=>String(v).replace('-','\u2212');

function drawTicksX(g,values,scale,labels){
  values.forEach((v,i)=>{
    const x=scale(v);
    const t=node(g,'line',{x1:x,x2:x,y1:869,y2:880,stroke:'#222','stroke-width':2.6});
    
    
    const l=node(g,'text',{x:x,y:918,'font-size':33,'text-anchor':'middle'});
    
    
    l.textContent=labels[i];
  });
}
function drawTicksY(g,values,scale,axisX){
  values.forEach(v=>{
    const y=scale(v);
    const t=node(g,'line',{x1:axisX-10,x2:axisX,y1:y,y2:y,stroke:'#222','stroke-width':2.6});
    
    
    const l=node(g,'text',{x:axisX-17,y:y+12,'font-size':33,'text-anchor':'end'});
    
    
    l.textContent=fmtTick(v);
  });
}
function drawNormal(g,sx,sy){
  normalPoints.forEach(p=>{
    const c=node(g,'circle',{cx:sx(p[0]).toFixed(1),cy:sy(p[1]).toFixed(1),r:5.8,fill:'#1f77b4','fill-opacity':.5,stroke:'#1f77b4','stroke-opacity':.5,'stroke-width':1.5});
    
    
  });
}

/* panel a */
const xA=linear(0,5,894,1024.4), yA=linear(0,5,490.5,385.5);
drawNormal(document.getElementById('marks-a'),xA,yA);
const ticksA=document.getElementById('ticks-a');
drawTicksX(ticksA,pcaXTicks,xA,pcaXTicks.map(fmtTick));
drawTicksY(ticksA,pcaYTicks,yA,204);

/* panel b */
const xB=linear(errorRangeX[0],errorRangeX[1],1308,2239);
const yB=v=>842.3-Math.log10(v)*229.2;
const marksB=document.getElementById('marks-b');
histCounts.forEach((c,i)=>{
  const r=node(marksB,'rect',{x:xB(histEdges[i]),y:yB(c),width:xB(histEdges[i+1])-xB(histEdges[i])+.5,height:869-yB(c),fill:'#1f77b4'});
  
  
});
const thr=node(marksB,'line',{x1:xB(thresholdValue),x2:xB(thresholdValue),y1:289,y2:869,stroke:'#1f77b4','stroke-width':6.5,'stroke-dasharray':'22 11'});


const ticksB=document.getElementById('ticks-b');
drawTicksX(ticksB,errorTicks,xB,errorTicks.map(v=>v.toFixed(2)));
countDecades.forEach(d=>{
  const y=yB(Math.pow(10,d));
  const t=node(ticksB,'line',{x1:1298,x2:1308,y1:y,y2:y,stroke:'#222','stroke-width':2.6});
  
  
  const l=node(ticksB,'text',{x:1271,y:y+19,'font-size':33,'text-anchor':'end'});
  
  
  l.textContent='10';
  const s=node(ticksB,'text',{x:1272,y:y+3,'font-size':23});
  
  
  s.textContent=String(d);
});
countMinorTicks.forEach(v=>{
  const y=yB(v);
  const t=node(ticksB,'line',{x1:1302,x2:1308,y1:y,y2:y,stroke:'#222','stroke-width':2});
  
  
});

/* panel c */
const xC=linear(0,5,3105.5,3235.7), yC=linear(0,5,490.6,385.6);
const marksC=document.getElementById('marks-c');
drawNormal(marksC,xC,yC);
anomalyPoints.forEach(p=>{
  const c=node(marksC,'circle',{cx:xC(p[0]).toFixed(1),cy:yC(p[1]).toFixed(1),r:9,fill:'#ff7f0e'});
  
  
});
const ticksC=document.getElementById('ticks-c');
drawTicksX(ticksC,pcaXTicks,xC,pcaXTicks.map(fmtTick));
drawTicksY(ticksC,pcaYTicks,yC,2415);
</script>
</body>
</html>
